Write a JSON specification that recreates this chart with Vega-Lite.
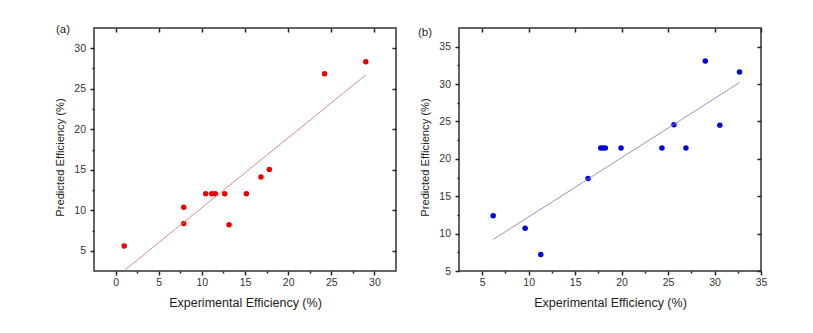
{
  "$schema": "https://vega.github.io/schema/vega-lite/v6.json",
  "background": "white",
  "padding": {"left": 54, "top": 23, "right": 5, "bottom": 5},
  "datasets": {
    "pointsA": [
      {"exp": 1.0, "pred": 5.6}, {"exp": 7.9, "pred": 10.37}, {"exp": 7.9, "pred": 8.36},
      {"exp": 10.45, "pred": 12.05}, {"exp": 11.15, "pred": 12.05}, {"exp": 11.57, "pred": 12.05},
      {"exp": 12.65, "pred": 12.05}, {"exp": 13.15, "pred": 8.2}, {"exp": 15.16, "pred": 12.05},
      {"exp": 16.85, "pred": 14.1}, {"exp": 17.82, "pred": 15.04}, {"exp": 24.22, "pred": 26.84},
      {"exp": 29.0, "pred": 28.32}
    ],
    "lineA": [{"exp": 1.0, "pred": 2.55}, {"exp": 29.0, "pred": 26.7}],
    "pointsB": [
      {"exp": 6.18, "pred": 12.38}, {"exp": 9.62, "pred": 10.73}, {"exp": 11.3, "pred": 7.22},
      {"exp": 16.39, "pred": 17.36}, {"exp": 17.75, "pred": 21.44}, {"exp": 18.0, "pred": 21.44},
      {"exp": 18.25, "pred": 21.44}, {"exp": 19.94, "pred": 21.44}, {"exp": 24.34, "pred": 21.44},
      {"exp": 25.63, "pred": 24.56}, {"exp": 26.92, "pred": 21.44}, {"exp": 29.0, "pred": 33.09},
      {"exp": 30.57, "pred": 24.51}, {"exp": 32.69, "pred": 31.62}
    ],
    "lineB": [{"exp": 6.18, "pred": 9.22}, {"exp": 32.69, "pred": 30.2}]
  },
  "hconcat": [
    {
      "width": 302,
      "height": 243,
      "title": {"text": "(a)", "anchor": "start", "frame": "group", "dx": -38, "dy": 19, "offset": 0, "baseline": "bottom", "fontSize": 11.5, "font": "Liberation Sans", "fontWeight": "normal", "color": "#222"},
      "layer": [
        {
          "data": {"name": "pointsA"},
          "mark": {"type": "circle", "size": 30, "color": "#e60000", "opacity": 1},
          "encoding": {
            "x": {"field": "exp", "type": "quantitative", "scale": {"domain": [-2.5, 32.5], "nice": false, "zero": false},
              "axis": {"orient": "bottom", "title": "Experimental Efficiency (%)", "values": [0, 2.5, 5, 7.5, 10, 12.5, 15, 17.5, 20, 22.5, 25, 27.5, 30],
                "labelExpr": "datum.value % 5 === 0 ? datum.label : ''",
                "tickSize": {"condition": {"test": "datum.value % 5 === 0", "value": 4}, "value": 2},
                "labelPadding": 2, "titlePadding": 8.5,
                "titleFontSize": 12.5}},
            "y": {"field": "pred", "type": "quantitative", "scale": {"domain": [2.5, 32.5], "nice": false, "zero": false},
              "axis": {"orient": "left", "title": "Predicted Efficiency (%)", "values": [5, 7.5, 10, 12.5, 15, 17.5, 20, 22.5, 25, 27.5, 30],
                "labelExpr": "datum.value % 5 === 0 ? datum.label : ''",
                "tickSize": {"condition": {"test": "datum.value % 5 === 0", "value": 4}, "value": 2},
                "labelPadding": 4.5, "titlePadding": 8,
                "titleFontSize": 11.2, "titleY": 129}}
          }
        },
        {
          "data": {"name": "lineA"},
          "mark": {"type": "line", "color": "#c98080", "strokeWidth": 0.9},
          "encoding": {
            "x": {"field": "exp", "type": "quantitative", "axis": {"orient": "top", "labels": false, "title": null, "tickSize": -4, "values": [0, 5, 10, 15, 20, 25, 30]}},
            "y": {"field": "pred", "type": "quantitative", "axis": {"orient": "right", "labels": false, "title": null, "tickSize": -4, "values": [5, 10, 15, 20, 25, 30]}}
          }
        }
      ],
      "resolve": {"axis": {"x": "independent", "y": "independent"}}
    },
    {
      "width": 302,
      "height": 243,
      "title": {"text": "(b)", "anchor": "start", "frame": "group", "dx": -41, "dy": 22, "offset": 0, "baseline": "bottom", "fontSize": 11.5, "font": "Liberation Sans", "fontWeight": "normal", "color": "#222"},
      "layer": [
        {
          "data": {"name": "pointsB"},
          "mark": {"type": "circle", "size": 30, "color": "#0000e0", "opacity": 1},
          "encoding": {
            "x": {"field": "exp", "type": "quantitative", "scale": {"domain": [2.5, 35], "nice": false, "zero": false},
              "axis": {"orient": "bottom", "title": "Experimental Efficiency (%)", "values": [5, 7.5, 10, 12.5, 15, 17.5, 20, 22.5, 25, 27.5, 30, 32.5, 35],
                "labelExpr": "datum.value % 5 === 0 ? datum.label : ''",
                "tickSize": {"condition": {"test": "datum.value % 5 === 0", "value": 4}, "value": 2},
                "labelPadding": 2, "titlePadding": 8.5,
                "titleFontSize": 12.5}},
            "y": {"field": "pred", "type": "quantitative", "scale": {"domain": [5, 37.5], "nice": false, "zero": false},
              "axis": {"orient": "left", "title": "Predicted Efficiency (%)", "values": [5, 7.5, 10, 12.5, 15, 17.5, 20, 22.5, 25, 27.5, 30, 32.5, 35],
                "labelExpr": "datum.value % 5 === 0 ? datum.label : ''",
                "tickSize": {"condition": {"test": "datum.value % 5 === 0", "value": 4}, "value": 2},
                "labelPadding": 4.5, "titlePadding": 8,
                "titleFontSize": 11.2, "titleY": 129}}
          }
        },
        {
          "data": {"name": "lineB"},
          "mark": {"type": "line", "color": "#8c88b8", "strokeWidth": 0.9},
          "encoding": {
            "x": {"field": "exp", "type": "quantitative", "axis": {"orient": "top", "labels": false, "title": null, "tickSize": -4, "values": [5, 10, 15, 20, 25, 30, 35]}},
            "y": {"field": "pred", "type": "quantitative", "axis": {"orient": "right", "labels": false, "title": null, "tickSize": -4, "values": [5, 10, 15, 20, 25, 30, 35]}}
          }
        }
      ],
      "resolve": {"axis": {"x": "independent", "y": "independent"}}
    }
  ],
  "spacing": 63,
  "bounds": "flush",
  "config": {
    "view": {"stroke": "#333", "strokeWidth": 1.5},
    "axis": {
      "grid": false,
      "domain": false,
      "ticks": true,
      "tickColor": "#222",
      "tickWidth": 1.5,
      "tickOpacity": 1,
      "labelColor": "#333",
      "titleColor": "#222",
      "labelFont": "Liberation Sans",
      "titleFont": "Liberation Sans",
      "labelFontSize": 10.5,
      "titleFontWeight": "normal",
      "labelFlush": false,
      "labelOverlap": false
    }
  }
}
